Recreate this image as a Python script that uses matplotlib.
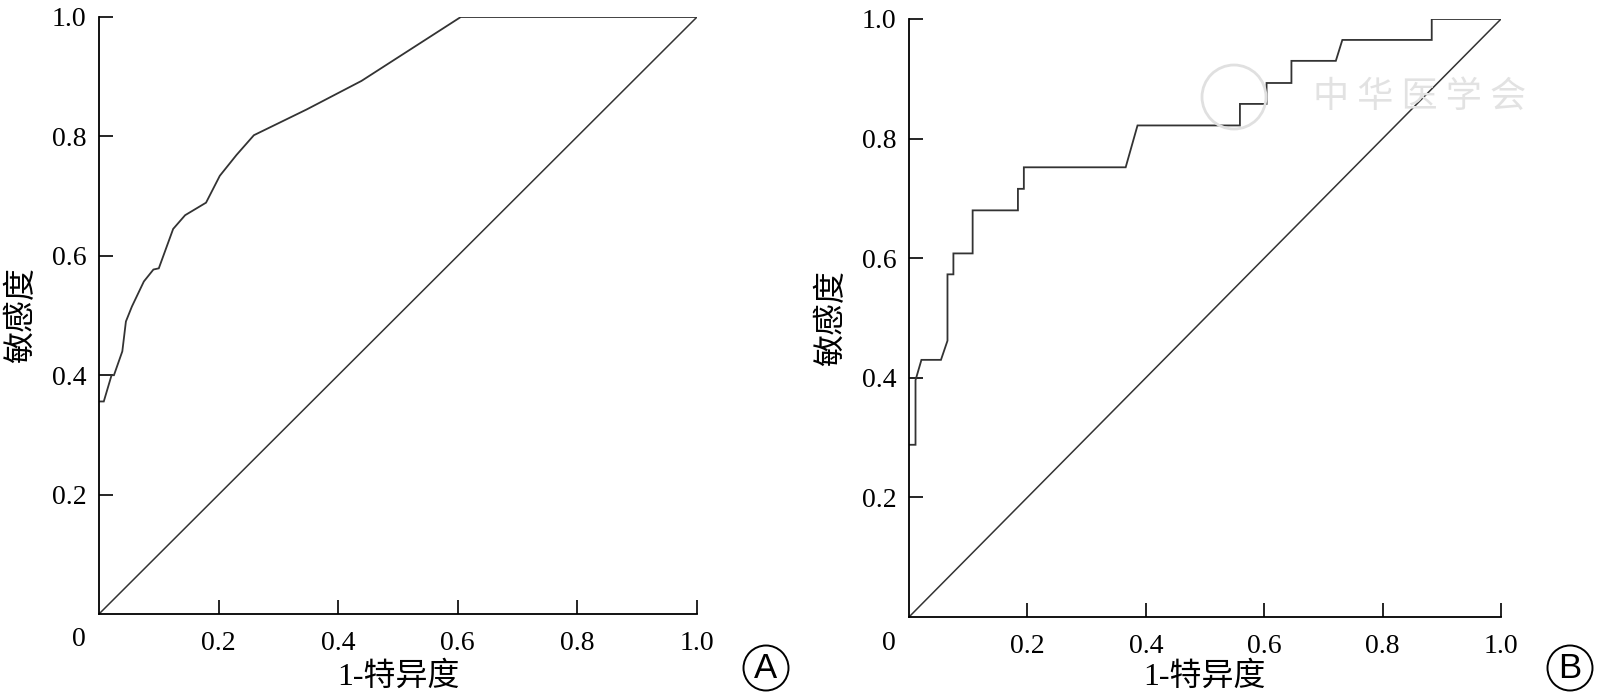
import matplotlib
matplotlib.use('Agg')
import matplotlib.pyplot as plt
from matplotlib.patches import Ellipse

plt.rcParams['font.family'] = ['Liberation Serif', 'Noto Sans CJK SC', 'DejaVu Sans']

# ROC curve A (1-specificity, sensitivity)
fpr_a = [0.0, 0.008, 0.021, 0.025, 0.039, 0.045, 0.055, 0.075, 0.091, 0.100,
         0.124, 0.144, 0.179, 0.202, 0.230, 0.259, 0.347, 0.439, 0.605, 1.0]
tpr_a = [0.356, 0.356, 0.400, 0.400, 0.440, 0.490, 0.515, 0.557, 0.577, 0.579,
         0.645, 0.668, 0.689, 0.734, 0.769, 0.802, 0.845, 0.893, 1.0, 1.0]

# ROC curve B
fpr_b = [0.0, 0.011, 0.011, 0.021, 0.054, 0.065, 0.065, 0.075, 0.075, 0.1075,
         0.1075, 0.184, 0.184, 0.194, 0.194, 0.366, 0.386, 0.559, 0.559, 0.604,
         0.604, 0.646, 0.646, 0.721, 0.732, 0.883, 0.883, 1.0]
tpr_b = [0.288, 0.288, 0.396, 0.430, 0.430, 0.462, 0.573, 0.573, 0.608, 0.608,
         0.680, 0.680, 0.716, 0.716, 0.752, 0.752, 0.822, 0.822, 0.858, 0.858,
         0.893, 0.893, 0.930, 0.930, 0.965, 0.965, 1.0, 1.0]

ticks = [0.2, 0.4, 0.6, 0.8, 1.0]
tick_labels = ['0.2', '0.4', '0.6', '0.8', '1.0']
xlabel = '1-特异度'
ylabel = '敏感度'
panel_names = ['A', 'B']

W, H = 1604, 698
fig = plt.figure(figsize=(W / 100, H / 100), dpi=100)

# axes boxes in pixels: left, right, bottom, top
boxes = [(99, 697, 614, 17), (909, 1501, 617, 19)]
curves = [(fpr_a, tpr_a), (fpr_b, tpr_b)]

for (l, r, b, t), (fx, ty), name in zip(boxes, curves, panel_names):
    ax = fig.add_axes([l / W, 1 - b / H, (r - l) / W, (b - t) / H])
    ax.plot(fx, ty, color='#333333', lw=1.3, solid_joinstyle='miter')
    ax.plot([0, 1], [0, 1], color='#333333', lw=1.1)
    ax.set_xlim(0, 1)
    ax.set_ylim(0, 1)
    for s in ['top', 'right']:
        ax.spines[s].set_visible(False)
    for s in ['left', 'bottom']:
        ax.spines[s].set_linewidth(1.3)
        ax.spines[s].set_color('black')
    ax.set_xticks(ticks)
    ax.set_xticklabels(tick_labels)
    ax.set_yticks(ticks)
    ax.set_yticklabels(tick_labels)
    ax.tick_params(direction='in', length=10, width=1.2, labelsize=20)
    ax.tick_params(axis='x', pad=12)
    ax.tick_params(axis='y', pad=9)
    ax.annotate('0', xy=(0, 0), xycoords='axes fraction', xytext=(-20, -26),
                textcoords='offset pixels', ha='center', va='center', fontsize=20)

    cx = (l + r) / 2
    fig.text(cx / W, 1 - 677 / H, xlabel, ha='center', va='center', fontsize=23)
    fig.text((l - 77) / W, 1 - (b + t) / 2 / H, ylabel, ha='center', va='center',
             rotation=90, fontsize=23)

    # circled panel letter
    px, py = r + 69, 668
    fig.patches.append(Ellipse((px / W, 1 - py / H), 45 / W, 45 / H,
                               transform=fig.transFigure, fill=False,
                               ec='black', lw=1.4))
    fig.text(px / W, 1 - py / H, name, ha='center', va='center', fontsize=25,
             family='Liberation Sans')

# faint watermark on panel B
fig.patches.append(Ellipse((1234 / W, 1 - 97 / H), 64 / W, 64 / H,
                           transform=fig.transFigure, fill=False,
                           ec='#e0e0e0', lw=2))
fig.text(1420 / W, 1 - 97 / H, '中 华 医 学 会', ha='center', va='center',
         fontsize=26, color='#e2e2e2', family='Noto Sans CJK SC')

fig.savefig('out.png', dpi=100)
